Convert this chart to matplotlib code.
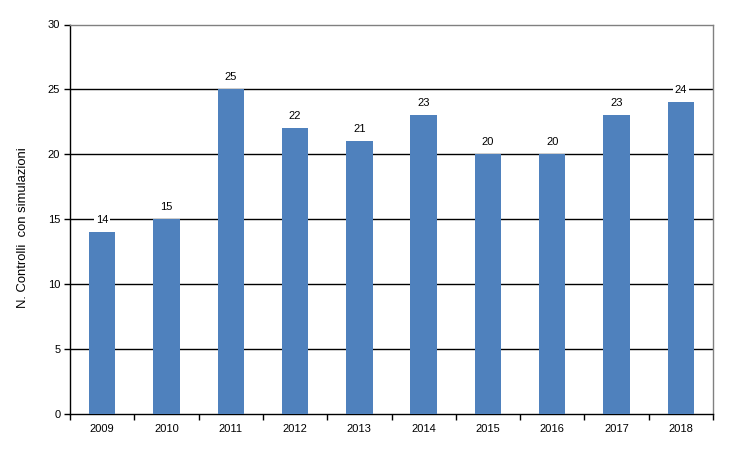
import matplotlib
matplotlib.use("Agg")
import matplotlib.pyplot as plt
import numpy as np

years = ["2009", "2010", "2011", "2012", "2013", "2014", "2015", "2016", "2017", "2018"]
values = [14, 15, 25, 22, 21, 23, 20, 20, 23, 24]
yticks = [0, 5, 10, 15, 20, 25, 30]

plt.rcParams['font.family'] = ['Liberation Sans', 'DejaVu Sans']

fig = plt.figure(figsize=(7.34, 4.58), dpi=100)
ax = fig.add_axes([70/734, 44/458, 643/734, 389.5/458])

x = np.arange(len(years))
ax.bar(x, values, width=0.41, color="#4F81BD", zorder=3)
ax.set_xlim(-0.5, len(years) - 0.5)
ax.set_ylim(0, 30)
ax.set_yticks(yticks)
ax.set_yticklabels([str(t) for t in yticks], fontsize=8)
ax.set_xticks(x)
ax.set_xticklabels(years, fontsize=8)
ax.set_xticks(np.arange(-0.5, len(years)), minor=True)
ax.tick_params(axis='x', which='major', length=0, pad=7)
ax.tick_params(axis='x', which='minor', length=4, width=1, direction='out')
ax.tick_params(axis='y', length=4, width=1, direction='out', pad=3)

for t in yticks[1:-1]:
    ax.axhline(t, color='black', lw=1, zorder=1)

for s in ['top', 'right']:
    ax.spines[s].set_color('#808080')
    ax.spines[s].set_linewidth(1)
for s in ['left', 'bottom']:
    ax.spines[s].set_color('black')
    ax.spines[s].set_linewidth(1)

for xi, v in zip(x, values):
    ax.annotate(str(v), (xi, v), xytext=(0, 5), textcoords='offset points',
                ha='center', va='bottom', fontsize=8, zorder=4,
                bbox=dict(boxstyle='square,pad=0.15', fc='white', ec='none'))

fig.text(23/734, 1 - 228/458, "N. Controlli  con simulazioni", fontsize=9.4,
         rotation=90, ha='center', va='center')

fig.savefig("out.png", dpi=100)
